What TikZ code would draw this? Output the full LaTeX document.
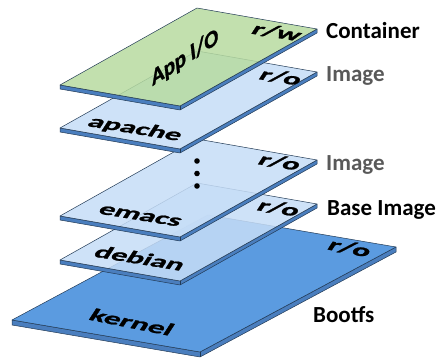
\documentclass[tikz,border=0pt]{standalone}
\usepackage{fontspec}
\setmainfont{Carlito}
\newfontfamily\platefont{Carlito}[UprightFont=* Bold, FakeBold=1.2]
\usetikzlibrary{calc}
\definecolor{sideblue}{HTML}{4A7EBE}
\definecolor{outl}{HTML}{223A55}
\definecolor{greentop}{HTML}{B7DBA0}
\definecolor{lighttop}{HTML}{C6DDF7}
\definecolor{kerneltop}{HTML}{5B9BE0}
\definecolor{labelgray}{HTML}{595959}
\tikzset{
  platesidestyle/.style={fill=sideblue, draw=outl, line width=0.5pt, line join=round},
  greenface/.style={fill=greentop, fill opacity=0.85, draw=outl, line width=0.5pt, line join=round},
  lightface/.style={fill=lighttop, fill opacity=0.85, draw=outl, line width=0.5pt, line join=round},
  kernelface/.style={fill=kerneltop, draw=outl, line width=0.5pt, line join=round},
  platetextbase/.style={font=\platefont\fontsize{14}{14}\selectfont, inner sep=0pt},
  platetext/.style={platetextbase, cm={2.2,-0.36,0.75,1.15,(0,0)}},
  kerneltext/.style={platetextbase, cm={2.25,-0.45,0.75,1.15,(0,0)}},
  apptext/.style={platetextbase, cm={1.45,0.95,-0.2,1.65,(0,0)}},
  sidelabel/.style={font=\bfseries\fontsize{23}{24}\selectfont, anchor=base west, inner sep=0pt},
  dotstyle/.style={fill=black}
}
\newcommand\drawplate[9]{%
  \coordinate (#9L) at (#1,#2);
  \coordinate (#9B) at ($(#9L)+(#3,#4)$);
  \coordinate (#9R) at ($(#9B)+(#5,#6)$);
  \coordinate (#9T) at ($(#9L)+(#5,#6)$);
  \filldraw[platesidestyle] (#9L) -- (#9B) -- (#9R) -- ($(#9R)+(0,#7)$) -- ($(#9B)+(0,#7)$) -- ($(#9L)+(0,#7)$) -- cycle;
  \draw[platesidestyle, fill=none] (#9B) -- ($(#9B)+(0,#7)$);
  \filldraw[#8] (#9L) -- (#9B) -- (#9R) -- (#9T) -- cycle;
}
\begin{document}
\begin{tikzpicture}[x=1pt, y=-1pt]
\useasboundingbox (0,0) rectangle (440,358);
% kernel
\drawplate{12}{320}{188}{32}{196}{-105}{5}{kernelface}{k}
\node[kerneltext] (kerneltxt) at (132,322) {kernel};
\node[kerneltext] (kro) at (350,248) {r/o};
% debian
\drawplate{60}{260}{120}{21}{137}{-77}{4}{lightface}{d}
\node[platetext] (debiantxt) at (140,258) {debian};
\node[platetext] (dro) at (279,208) {r/o};
% emacs
\drawplate{60}{216}{120}{21}{137}{-77}{4}{lightface}{e}
\node[platetext] (emacstxt) at (140,216) {emacs};
\node[platetext] (ero) at (280,162) {r/o};
\fill[dotstyle] (197,161) circle[radius=2.8];
\fill[dotstyle] (197,173.5) circle[radius=2.8];
\fill[dotstyle] (197,186) circle[radius=2.8];
% apache
\drawplate{60}{128}{120}{21}{137}{-77}{4}{lightface}{a}
\node[platetext] (apachetxt) at (135,129) {apache};
\node[platetext] (aro) at (281,77) {r/o};
% container
\drawplate{60}{85}{120}{21}{137}{-77}{4}{greenface}{c}
\node[apptext] (apptxt) at (185,58) {App I/O};
\node[platetext] (crw) at (277,32) {r/w};
% side labels
\node[sidelabel] (lcont) at (326,39) {Container};
\node[sidelabel, text=labelgray] (limg1) at (326,82) {Image};
\node[sidelabel, text=labelgray] (limg2) at (326,171) {Image};
\node[sidelabel] (lbase) at (327,216) {Base Image};
\node[sidelabel] (lboot) at (313,323) {Bootfs};
\end{tikzpicture}
\end{document}
